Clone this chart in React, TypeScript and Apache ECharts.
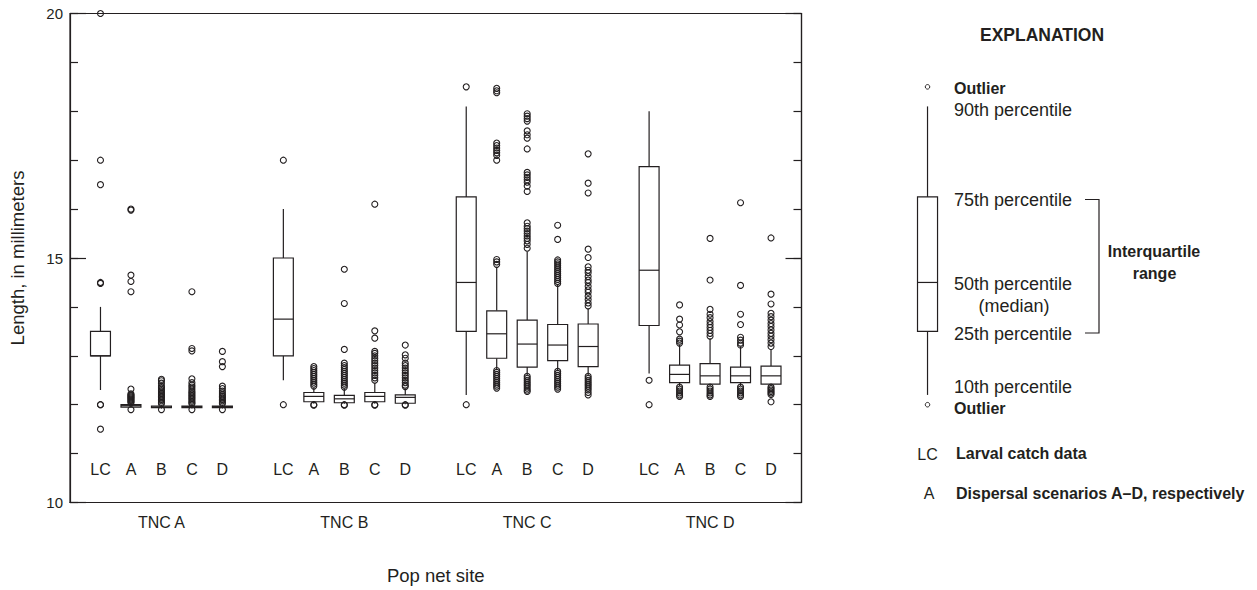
import React, { useEffect, useRef } from "react";
import * as echarts from "echarts";

const sites = ["TNC A", "TNC B", "TNC C", "TNC D"];
const scenarios = ["LC", "A", "B", "C", "D"];
const yTicks = [10, 15, 20];

// each row: [10th, 25th, 50th, 75th, 90th percentile] for LC, A, B, C, D
const tncABoxes = [
  [12.3, 13.0, 13.0, 13.5, 14.0],
  [11.93, 11.95, 11.98, 12.0, 12.04],
  [11.92, 11.94, 11.95, 11.97, 11.99],
  [11.92, 11.94, 11.96, 11.97, 12.0],
  [11.92, 11.94, 11.96, 11.97, 12.0],
];
const tncBBoxes = [
  [12.5, 13.0, 13.75, 15.0, 16.0],
  [12.02, 12.06, 12.17, 12.25, 12.34],
  [12.02, 12.04, 12.12, 12.19, 12.33],
  [12.02, 12.06, 12.17, 12.25, 12.45],
  [12.01, 12.03, 12.15, 12.2, 12.33],
];
const tncCBoxes = [
  [12.2, 13.5, 14.5, 16.25, 18.1],
  [12.73, 12.95, 13.45, 13.92, 14.82],
  [12.6, 12.77, 13.24, 13.73, 15.13],
  [12.7, 12.9, 13.22, 13.64, 14.45],
  [12.6, 12.78, 13.19, 13.65, 13.97],
];
const tncDBoxes = [
  [12.64, 13.62, 14.75, 16.87, 18.0],
  [12.38, 12.45, 12.62, 12.81, 13.22],
  [12.38, 12.42, 12.59, 12.84, 13.36],
  [12.38, 12.45, 12.59, 12.77, 13.19],
  [12.38, 12.42, 12.59, 12.79, 13.12],
];

// outliers for LC, A, B, C, D
const tncAOutliers = [
  [20.0, 17.0, 16.5, 14.5, 14.48, 12.0, 12.0, 11.5],
  [16.0, 15.98, 14.65, 14.52, 14.31, 12.32, 12.22, 12.2, 12.18, 12.16, 12.14, 12.12, 12.1, 12.08, 12.06, 12.04, 11.9],
  [12.52, 12.49, 12.44, 12.38, 12.35, 12.32, 12.29, 12.26, 12.23, 12.2, 12.17, 12.14, 12.11, 12.08, 12.05, 12.02, 11.9],
  [14.31, 13.15, 13.1, 12.53, 12.45, 12.4, 12.36, 12.32, 12.28, 12.25, 12.22, 12.19, 12.16, 12.13, 12.1, 12.07, 12.04, 12.02, 11.9],
  [13.09, 12.88, 12.78, 12.38, 12.33, 12.28, 12.24, 12.2, 12.17, 12.14, 12.11, 12.08, 12.05, 12.02, 11.9],
];
const tncBOutliers = [
  [17.0, 12.0],
  [12.78, 12.74, 12.7, 12.66, 12.62, 12.58, 12.54, 12.5, 12.46, 12.42, 12.38, 12.0, 11.99],
  [14.77, 14.07, 13.13, 12.85, 12.8, 12.76, 12.72, 12.68, 12.64, 12.6, 12.56, 12.52, 12.48, 12.44, 12.4, 12.36, 12.0, 11.99],
  [16.1, 13.51, 13.36, 13.09, 13.05, 13.0, 12.95, 12.9, 12.85, 12.8, 12.75, 12.7, 12.65, 12.6, 12.55, 12.5, 12.0, 11.99],
  [13.22, 13.02, 12.95, 12.85, 12.8, 12.75, 12.7, 12.65, 12.6, 12.55, 12.5, 12.45, 12.4, 12.37, 12.0, 11.99],
];
const tncCOutliers = [
  [18.5, 12.0],
  [18.47, 18.42, 18.38, 17.35, 17.3, 17.25, 17.2, 17.15, 17.1, 17.0, 14.97, 14.92, 14.87, 12.7, 12.66, 12.62, 12.58, 12.54, 12.5, 12.46, 12.42, 12.38, 12.34],
  [17.95, 17.9, 17.85, 17.8, 17.6, 17.52, 17.45, 17.23, 16.75, 16.7, 16.65, 16.6, 16.55, 16.47, 16.36, 15.72, 15.65, 15.6, 15.55, 15.5, 15.45, 15.4, 15.35, 15.28, 15.2, 12.58, 12.54, 12.5, 12.46, 12.42, 12.38, 12.34, 12.3, 12.27],
  [15.67, 15.38, 14.96, 14.92, 14.88, 14.84, 14.8, 14.76, 14.72, 14.68, 14.64, 14.6, 14.56, 14.52, 14.48, 12.68, 12.64, 12.6, 12.56, 12.52, 12.48, 12.44, 12.4, 12.36, 12.32],
  [17.13, 16.53, 16.33, 15.18, 15.01, 14.82, 14.75, 14.7, 14.62, 14.55, 14.5, 14.42, 14.35, 14.3, 14.22, 14.15, 14.08, 14.02, 12.58, 12.54, 12.5, 12.46, 12.42, 12.38, 12.34, 12.3, 12.25, 12.2],
];
const tncDOutliers = [
  [12.5, 12.0],
  [14.04, 13.75, 13.63, 13.49, 13.34, 13.3, 13.26, 12.36, 12.32, 12.28, 12.24, 12.2, 12.17],
  [15.4, 14.55, 13.95, 13.85, 13.78, 13.7, 13.64, 13.58, 13.52, 13.46, 13.4, 12.36, 12.32, 12.28, 12.24, 12.2, 12.17],
  [16.13, 14.44, 13.85, 13.64, 13.38, 13.32, 13.26, 13.22, 12.36, 12.32, 12.28, 12.24, 12.2, 12.17],
  [15.41, 14.26, 14.06, 13.87, 13.8, 13.73, 13.66, 13.6, 13.53, 13.46, 13.4, 13.33, 13.26, 13.19, 12.36, 12.33, 12.3, 12.27, 12.24, 12.21, 12.06],
];

// explanation sample box
const explanationBox = [12.2, 13.5, 14.5, 16.25, 18.1];
const explanationOutliers = [18.5, 12.0];

const INK = "#231f20";
const FONT = "'Liberation Sans', Arial, sans-serif";

export default function App() {
  const ref = useRef<HTMLDivElement>(null);

  useEffect(() => {
    const chart = echarts.init(ref.current!, null, { renderer: "svg" });

    const allBoxes = [tncABoxes, tncBBoxes, tncCBoxes, tncDBoxes];
    const allOutliers = [tncAOutliers, tncBOutliers, tncCOutliers, tncDOutliers];
    const boxData: number[][] = [];
    const outlierData: number[][] = [];
    allBoxes.forEach((boxes, g) =>
      boxes.forEach((b, s) => boxData.push([g * 6 + s + 1, ...b]))
    );
    allOutliers.forEach((groups, g) =>
      groups.forEach((vals, s) => vals.forEach((v) => outlierData.push([g * 6 + s + 1, v])))
    );

    const renderBox = (params: any, api: any) => {
      const x = api.value(0);
      const pLow = api.coord([x, api.value(1)]);
      const pQ1 = api.coord([x, api.value(2)]);
      const pMed = api.coord([x, api.value(3)]);
      const pQ3 = api.coord([x, api.value(4)]);
      const pHigh = api.coord([x, api.value(5)]);
      const half = api.size([1, 0])[0] * 0.327;
      const cx = pLow[0];
      const ls = { stroke: INK, lineWidth: 1.2 };
      return {
        type: "group",
        children: [
          { type: "line", shape: { x1: cx, y1: pHigh[1], x2: cx, y2: pQ3[1] }, style: ls },
          { type: "line", shape: { x1: cx, y1: pQ1[1], x2: cx, y2: pLow[1] }, style: ls },
          {
            type: "rect",
            shape: { x: cx - half, y: pQ3[1], width: half * 2, height: pQ1[1] - pQ3[1] },
            style: { fill: "#fff", stroke: INK, lineWidth: 1.2 },
          },
          { type: "line", shape: { x1: cx - half, y1: pMed[1], x2: cx + half, y2: pMed[1] }, style: ls },
        ],
      };
    };

    const tickStyle = { color: INK, width: 1.2 };
    const textBase = { fill: INK, fontFamily: FONT };
    const yMin = yTicks[0];
    const yMax = yTicks[yTicks.length - 1];

    const minorAxis = (position: string) => ({
      gridIndex: 0,
      type: "value",
      min: yMin,
      max: yMax,
      interval: 1,
      position,
      axisLine: { show: false },
      axisTick: { show: true, inside: true, length: 8, lineStyle: tickStyle },
      splitLine: { show: false },
      axisLabel: { show: false },
    });

    const option: any = {
      animation: false,
      backgroundColor: "#fff",
      grid: [
        {
          left: 66.5,
          top: 13.5,
          width: 735,
          height: 489,
          show: true,
          borderColor: INK,
          borderWidth: 1.2,
          backgroundColor: "transparent",
        },
        { left: 896.9, top: 13.5, width: 61.25, height: 489, show: false },
      ],
      xAxis: [
        {
          gridIndex: 0,
          type: "value",
          min: 0,
          max: 24,
          interval: 1,
          position: "bottom",
          axisLine: { show: true, lineStyle: tickStyle },
          axisTick: { show: false },
          splitLine: { show: false },
          axisLabel: {
            inside: true,
            margin: 25,
            fontSize: 16,
            color: INK,
            fontFamily: FONT,
            formatter: (v: number) => {
              const s = Math.round(v) % 6;
              return s === 0 ? "" : scenarios[s - 1];
            },
          },
        },
        {
          gridIndex: 0,
          type: "value",
          min: 0,
          max: 24,
          interval: 3,
          position: "bottom",
          axisLine: { show: false },
          axisTick: { show: false },
          splitLine: { show: false },
          axisLabel: {
            margin: 12,
            fontSize: 16,
            color: INK,
            fontFamily: FONT,
            formatter: (v: number) => {
              const r = Math.round(v);
              return r % 6 === 3 ? sites[(r - 3) / 6] : "";
            },
          },
          name: "Pop net site",
          nameLocation: "middle",
          nameGap: 63,
          nameTextStyle: { fontSize: 18.5, color: INK, fontFamily: FONT },
        },
        { gridIndex: 1, type: "value", min: 0, max: 2, show: false },
      ],
      yAxis: [
        {
          gridIndex: 0,
          type: "value",
          min: yMin,
          max: yMax,
          interval: 5,
          position: "left",
          axisLine: { show: true, lineStyle: tickStyle },
          axisTick: { show: true, inside: true, length: 16, lineStyle: tickStyle },
          splitLine: { show: false },
          axisLabel: { margin: 7, fontSize: 15, color: INK, fontFamily: FONT },
          name: "Length, in millimeters",
          nameLocation: "middle",
          nameGap: 43,
          nameRotate: 90,
          nameTextStyle: { fontSize: 18.5, color: INK, fontFamily: FONT },
        },
        minorAxis("left"),
        {
          gridIndex: 0,
          type: "value",
          min: yMin,
          max: yMax,
          interval: 5,
          position: "right",
          axisLine: { show: true, lineStyle: tickStyle },
          axisTick: { show: true, inside: true, length: 16, lineStyle: tickStyle },
          splitLine: { show: false },
          axisLabel: { show: false },
        },
        minorAxis("right"),
        { gridIndex: 1, type: "value", min: yMin, max: yMax, show: false },
      ],
      series: [
        {
          type: "custom",
          xAxisIndex: 0,
          yAxisIndex: 0,
          data: boxData,
          encode: { x: 0, y: [1, 2, 3, 4, 5] },
          renderItem: renderBox,
          z: 2,
        },
        {
          type: "scatter",
          xAxisIndex: 0,
          yAxisIndex: 0,
          data: outlierData,
          symbol: "circle",
          symbolSize: 6,
          itemStyle: { color: "rgba(0,0,0,0)", borderColor: INK, borderWidth: 1.1, opacity: 1 },
          z: 3,
        },
        {
          type: "custom",
          xAxisIndex: 2,
          yAxisIndex: 4,
          data: [[1, ...explanationBox]],
          encode: { x: 0, y: [1, 2, 3, 4, 5] },
          renderItem: renderBox,
          z: 2,
        },
        {
          type: "scatter",
          xAxisIndex: 2,
          yAxisIndex: 4,
          data: explanationOutliers.map((v) => [1, v]),
          symbol: "circle",
          symbolSize: 4.5,
          itemStyle: { color: "rgba(0,0,0,0)", borderColor: INK, borderWidth: 1, opacity: 1 },
          z: 3,
        },
      ],
      graphic: [
        { type: "text", left: 980, top: 26, style: { ...textBase, text: "EXPLANATION", fontSize: 17.5, fontWeight: "bold" } },
        { type: "text", x: 954, y: 88, style: { ...textBase, text: "Outlier", fontSize: 16, fontWeight: "bold", verticalAlign: "middle" } },
        { type: "text", x: 954, y: 109.5, style: { ...textBase, text: "90th percentile", fontSize: 18, verticalAlign: "middle" } },
        { type: "text", x: 954, y: 199.5, style: { ...textBase, text: "75th percentile", fontSize: 18, verticalAlign: "middle" } },
        { type: "text", x: 954, y: 284, style: { ...textBase, text: "50th percentile", fontSize: 18, verticalAlign: "middle" } },
        { type: "text", x: 1014, y: 306, style: { ...textBase, text: "(median)", fontSize: 18, verticalAlign: "middle", align: "center" } },
        { type: "text", x: 954, y: 333.5, style: { ...textBase, text: "25th percentile", fontSize: 18, verticalAlign: "middle" } },
        { type: "text", x: 954, y: 387, style: { ...textBase, text: "10th percentile", fontSize: 18, verticalAlign: "middle" } },
        { type: "text", x: 954, y: 408.5, style: { ...textBase, text: "Outlier", fontSize: 16, fontWeight: "bold", verticalAlign: "middle" } },
        { type: "text", x: 1154, y: 251.5, style: { ...textBase, text: "Interquartile", fontSize: 16, fontWeight: "bold", verticalAlign: "middle", align: "center" } },
        { type: "text", x: 1154.5, y: 273.5, style: { ...textBase, text: "range", fontSize: 16, fontWeight: "bold", verticalAlign: "middle", align: "center" } },
        {
          type: "polyline",
          shape: { points: [[1085, 199.5], [1099, 199.5], [1099, 333], [1085, 333]] },
          style: { stroke: INK, lineWidth: 1.2, fill: "none" },
        },
        { type: "text", x: 927.5, y: 454, style: { ...textBase, text: "LC", fontSize: 16, verticalAlign: "middle", align: "center" } },
        { type: "text", x: 956, y: 453, style: { ...textBase, text: "Larval catch data", fontSize: 16, fontWeight: "bold", verticalAlign: "middle" } },
        { type: "text", x: 929, y: 493.5, style: { ...textBase, text: "A", fontSize: 16, verticalAlign: "middle", align: "center" } },
        { type: "text", x: 956, y: 493, style: { ...textBase, text: "Dispersal scenarios A\u2013D, respectively", fontSize: 16, fontWeight: "bold", verticalAlign: "middle" } },
      ],
    };

    chart.setOption(option);
    return () => chart.dispose();
  }, []);

  return (
    <div
      ref={ref}
      style={{ position: "absolute", left: 0, top: 0, width: 1257, height: 590 }}
    />
  );
}
